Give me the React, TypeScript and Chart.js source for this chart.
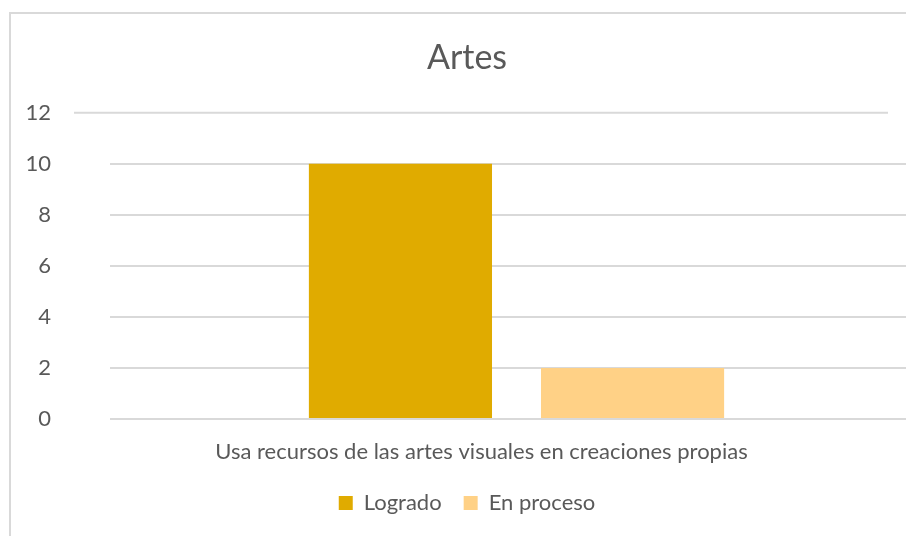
import React, { useEffect, useRef } from "react";
import { Chart, registerables } from "chart.js";

Chart.register(...registerables);

const categories = ["Usa recursos de las artes visuales en creaciones propias"];
const seriesNames = ["Logrado", "En proceso"];
const logrado = [10];
const enProceso = [2];
const yMin = 0;
const yMax = 12;
const yStep = 2;

const TEXT = "#595959";
const GRID = "#D9D9D9";
const FONT = "Lato, 'Noto Sans', sans-serif";

export default function App() {
  const ref = useRef<HTMLCanvasElement>(null);

  useEffect(() => {
    if (!ref.current) return;
    const topLine = {
      id: "topLine",
      beforeDatasetsDraw(chart: any) {
        const ys = chart.scales.y;
        const y = ys.getPixelForValue(yMax);
        const { left, right } = chart.chartArea;
        const ctx = chart.ctx;
        ctx.save();
        ctx.strokeStyle = GRID;
        ctx.lineWidth = 2;
        ctx.beginPath();
        ctx.moveTo(left - 36, y);
        ctx.lineTo(right - 35, y);
        ctx.stroke();
        ctx.restore();
      },
    };
    const chart = new Chart(ref.current, {
      type: "bar",
      data: {
        labels: categories,
        datasets: [
          {
            label: seriesNames[0],
            data: logrado,
            backgroundColor: "#E0AB00",
            barPercentage: 0.789,
            categoryPercentage: 0.571,
          },
          {
            label: seriesNames[1],
            data: enProceso,
            backgroundColor: "#FFD186",
            barPercentage: 0.789,
            categoryPercentage: 0.571,
          },
        ],
      },
      options: {
        responsive: false,
        animation: false,
        devicePixelRatio: 1,
        layout: { padding: { top: 0, right: 0, left: 0, bottom: 30 } },
        plugins: {
          title: {
            display: true,
            text: "Artes",
            color: TEXT,
            font: { family: FONT, size: 34, weight: "normal" },
            padding: { top: 24, bottom: 34 },
          },
          legend: {
            position: "bottom",
            labels: {
              color: TEXT,
              font: { family: FONT, size: 22 },
              boxWidth: 14,
              boxHeight: 14,
              padding: 22,
            },
          },
          tooltip: { enabled: false },
        },
        scales: {
          x: {
            grid: { display: false },
            border: { display: false },
            ticks: {
              color: TEXT,
              font: { family: FONT, size: 22 },
              padding: 12,
              labelOffset: -35,
              maxRotation: 0,
            },
            afterFit: (s: any) => {
              s.height = 51;
            },
          },
          y: {
            min: yMin,
            max: yMax,
            ticks: {
              stepSize: yStep,
              padding: 59,
              color: TEXT,
              font: { family: FONT, size: 22 },
            },
            grid: {
              color: (ctx: any) => (ctx.tick && ctx.tick.value === yMax ? "rgba(0,0,0,0)" : GRID),
              lineWidth: 2,
              drawTicks: false,
            },
            border: { display: false },
            afterFit: (s: any) => {
              s.width = 99;
            },
          },
        },
      },
      plugins: [topLine],
    });
    return () => chart.destroy();
  }, []);

  return (
    <div
      style={{
        position: "fixed",
        left: 0,
        top: 0,
        width: 906,
        height: 536,
        overflow: "hidden",
        background: "#fff",
      }}
    >
      <div
        style={{
          position: "absolute",
          left: 9,
          top: 12,
          width: 940,
          height: 560,
          border: `2px solid ${GRID}`,
          background: "#fff",
        }}
      >
        <canvas ref={ref} width={912} height={540} style={{ display: "block", width: 912, height: 540 }} />
      </div>
    </div>
  );
}
